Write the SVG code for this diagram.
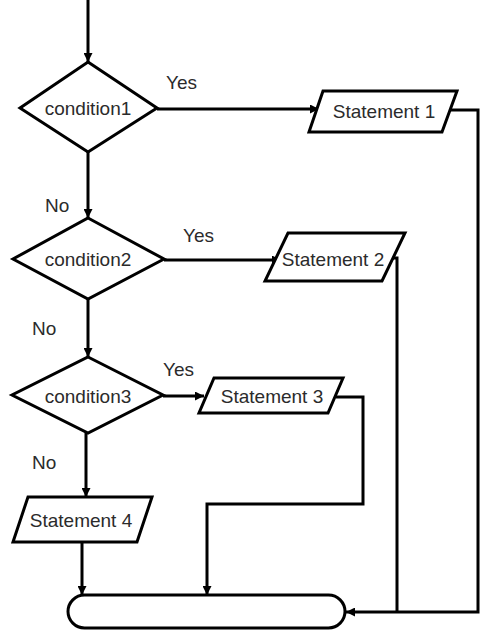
<svg xmlns="http://www.w3.org/2000/svg" width="486" height="635" viewBox="0 0 486 635">
<style>
.s{fill:#fff;stroke:#000;stroke-width:3;stroke-linejoin:miter}
.c{fill:none;stroke:#000;stroke-width:3}
.t{font-family:"Liberation Sans",Arial,sans-serif;font-size:19px;fill:#2b2b2b}
.m{text-anchor:middle}
</style>
<defs>
<marker id="ah" viewBox="0 0 10 10" refX="10" refY="5" markerWidth="10" markerHeight="9" markerUnits="userSpaceOnUse" orient="auto">
<path d="M0,0 L10,5 L0,10 z" fill="#000"/>
</marker>
</defs>
<rect width="486" height="635" fill="#fff"/>
<g id="connectors">
<path class="c" d="M88,0 V62" marker-end="url(#ah)"/>
<path class="c" d="M157,109 H319" marker-end="url(#ah)"/>
<path class="c" d="M88,152 V218" marker-end="url(#ah)"/>
<path class="c" d="M164,260 H281" marker-end="url(#ah)"/>
<path class="c" d="M88,299 V357" marker-end="url(#ah)"/>
<path class="c" d="M163,396 H204" marker-end="url(#ah)"/>
<path class="c" d="M86,433 V497" marker-end="url(#ah)"/>
<path class="c" d="M82,542 V595" marker-end="url(#ah)"/>
<path class="c" d="M336,397 H363 V504 H207 V595" marker-end="url(#ah)"/>
<path class="c" d="M392,258 H397 V612"/>
<path class="c" d="M450,110 H478 V612 H346" marker-end="url(#ah)"/>
<text class="t" x="166" y="89">Yes</text>
<text class="t" x="45" y="212">No</text>
<text class="t" x="183" y="242">Yes</text>
<text class="t" x="32" y="335">No</text>
<text class="t" x="163" y="376">Yes</text>
<text class="t" x="32" y="469">No</text>
</g>
<g id="condition1">
<polygon class="s" points="88,62 157,108 88,152 20,108"/>
<text class="t m" x="88" y="115">condition1</text>
</g>
<g id="statement1">
<polygon class="s" points="323,91 457,91 442,132 309,132"/>
<text class="t m" x="384" y="118">Statement 1</text>
</g>
<g id="condition2">
<polygon class="s" points="88,218 164,259 88,299 13,259"/>
<text class="t m" x="88" y="266">condition2</text>
</g>
<g id="statement2">
<polygon class="s" points="288,233 405,233 382,281 265,281"/>
<text class="t m" x="333" y="266">Statement 2</text>
</g>
<g id="condition3">
<polygon class="s" points="88,357 163,395 88,433 12,395"/>
<text class="t m" x="88" y="403">condition3</text>
</g>
<g id="statement3">
<polygon class="s" points="214,378 343,378 328,413 199,413"/>
<text class="t m" x="272" y="403">Statement 3</text>
</g>
<g id="statement4">
<polygon class="s" points="28,497 152,497 137,542 13,542"/>
<text class="t m" x="81" y="527">Statement 4</text>
</g>
<g id="end">
<rect class="s" x="68" y="595" width="277" height="33" rx="16.5"/>
</g>
</svg>
